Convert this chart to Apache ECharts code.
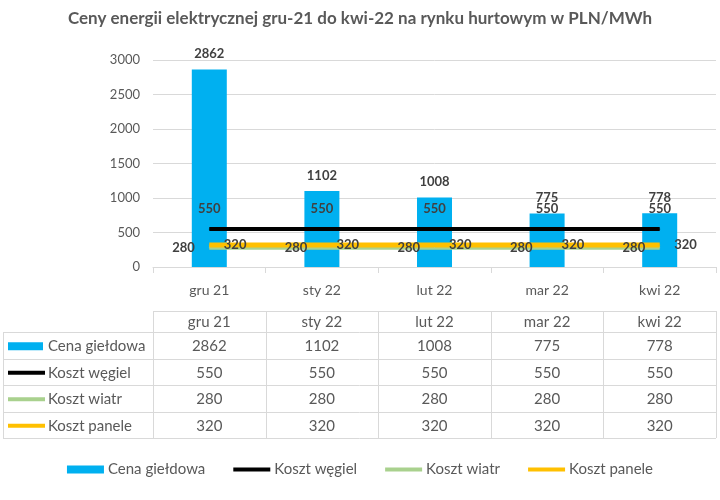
<!DOCTYPE html>
<html>
<head>
<meta charset="utf-8">
<script src="https://cdn.jsdelivr.net/npm/echarts@6/dist/echarts.min.js"></script>
<style>
  html, body { margin: 0; padding: 0; background: #fff; }
  #chart { width: 720px; height: 500px; }
</style>
</head>
<body>
<div id="chart"></div>
<script>
// chart data
const categories = ['gru 21', 'sty 22', 'lut 22', 'mar 22', 'kwi 22']
const cenaGieldowa = [2862, 1102, 1008, 775, 778]
const kosztWegiel = [550, 550, 550, 550, 550]
const kosztWiatr = [280, 280, 280, 280, 280]
const kosztPanele = [320, 320, 320, 320, 320]
const yTicks = [0, 500, 1000, 1500, 2000, 2500, 3000]

const seriesNames = ['Cena giełdowa', 'Koszt węgiel', 'Koszt wiatr', 'Koszt panele']
const seriesColors = ['#00b0f0', '#000000', '#a9d18e', '#ffc000']
const seriesValues = [cenaGieldowa, kosztWegiel, kosztWiatr, kosztPanele]

const FONT = 'Lato, "Open Sans", sans-serif'
const TEXT = '#595959'
const LABEL = '#404040'
const BORDER = '#d9d9d9'

const chart = echarts.init(document.getElementById('chart'), null, { renderer: 'canvas' })

const labelStyle = { show: true, fontWeight: 'bold', fontSize: 13, color: LABEL, fontFamily: FONT }

function lineSeries(i, width, pos, dist) {
  return {
    name: seriesNames[i],
    type: 'line',
    data: seriesValues[i],
    symbol: 'circle',
    symbolSize: 1,
    itemStyle: { color: seriesColors[i] },
    lineStyle: { color: seriesColors[i], width: width },
    label: { ...labelStyle, position: pos, distance: dist },
    emphasis: { disabled: true }
  }
}

const option = {
  animation: false,
  backgroundColor: '#fff',
  textStyle: { fontFamily: FONT },
  title: {
    text: 'Ceny energii elektrycznej gru-21 do kwi-22 na rynku hurtowym w PLN/MWh',
    left: 'center',
    top: 5,
    textStyle: { fontSize: 17, fontWeight: 'bold', color: TEXT, fontFamily: FONT }
  },
  legend: {
    bottom: 18,
    left: 'center',
    itemWidth: 37,
    itemHeight: 8,
    itemGap: 26,
    lineStyle: { width: 4 },
    textStyle: { fontSize: 15, color: TEXT, fontFamily: FONT, padding: [0, 0, 0, -1] },
    data: [
      { name: seriesNames[0], icon: 'rect' },
      { name: seriesNames[1], itemStyle: { opacity: 0 } },
      { name: seriesNames[2], itemStyle: { opacity: 0 } },
      { name: seriesNames[3], itemStyle: { opacity: 0 } }
    ]
  },
  grid: { left: 153, right: 4, top: 60, bottom: 233 },
  xAxis: {
    type: 'category',
    data: categories,
    axisLine: { lineStyle: { color: BORDER } },
    axisTick: { show: true, length: 6, lineStyle: { color: BORDER } },
    axisLabel: { color: TEXT, fontSize: 14, margin: 16, fontFamily: FONT }
  },
  yAxis: {
    type: 'value',
    min: yTicks[0],
    max: yTicks[yTicks.length - 1],
    interval: yTicks[1] - yTicks[0],
    axisLine: { show: false },
    axisTick: { show: false },
    axisLabel: { color: TEXT, fontSize: 13, margin: 13, fontFamily: FONT, formatter: v => String(v) },
    splitLine: { lineStyle: { color: BORDER } }
  },
  series: [
    {
      name: seriesNames[0],
      type: 'bar',
      data: cenaGieldowa,
      barWidth: 35,
      itemStyle: { color: seriesColors[0] },
      label: { ...labelStyle, position: 'top', distance: 9 },
      emphasis: { disabled: true }
    },
    lineSeries(1, 4, 'top', 13),
    lineSeries(2, 4, 'left', 14),
    lineSeries(3, 5, 'right', 14)
  ]
}

chart.setOption(option)

// data table under the plot, columns follow the category axis
function buildTable() {
  const centers = categories.map(c => chart.convertToPixel({ xAxisIndex: 0 }, c))
  const band = centers.length > 1 ? centers[1] - centers[0] : 100
  const colLeft = centers[0] - band / 2
  const colRight = centers[centers.length - 1] + band / 2
  const headTop = 311
  const headBottom = 332
  const rowH = 26.5
  const tableLeft = 3
  const tableBottom = headBottom + rowH * seriesNames.length
  const els = []
  const line = (x1, y1, x2, y2) => els.push({
    type: 'line', silent: true,
    shape: { x1, y1, x2, y2 },
    style: { stroke: BORDER, lineWidth: 1 }
  })
  const text = (x, y, t, align) => els.push({
    type: 'text', silent: true, x, y,
    style: { text: t, fill: TEXT, font: '15px ' + FONT, align: align || 'center', verticalAlign: 'middle' }
  })

  // horizontal borders
  line(colLeft, headTop + 0.5, colRight, headTop + 0.5)
  for (let r = 0; r <= seriesNames.length; r++) {
    const y = Math.round(headBottom + rowH * r) + 0.5
    line(tableLeft, y, colRight, y)
  }
  // vertical borders
  line(tableLeft + 0.5, headBottom, tableLeft + 0.5, tableBottom)
  for (let c = 0; c <= categories.length; c++) {
    const x = Math.round(colLeft + band * c) + 0.5
    line(x, headTop, x, tableBottom)
  }
  // header
  categories.forEach((c, i) => text(centers[i], (headTop + headBottom) / 2 + 1, c))
  // rows
  seriesNames.forEach((name, r) => {
    const yc = headBottom + rowH * r + rowH / 2 + 1
    if (r === 0) {
      els.push({ type: 'rect', silent: true, shape: { x: 8, y: yc - 4, width: 35, height: 8 }, style: { fill: seriesColors[r] } })
    } else {
      els.push({ type: 'line', silent: true, shape: { x1: 8, y1: yc, x2: 45, y2: yc }, style: { stroke: seriesColors[r], lineWidth: 4 } })
    }
    text(48, yc, name, 'left')
    seriesValues[r].forEach((v, i) => text(centers[i], yc, String(v)))
  })
  chart.setOption({ graphic: { elements: els } })
}

buildTable()
window.addEventListener('resize', () => { chart.resize(); buildTable() })
</script>
</body>
</html>
